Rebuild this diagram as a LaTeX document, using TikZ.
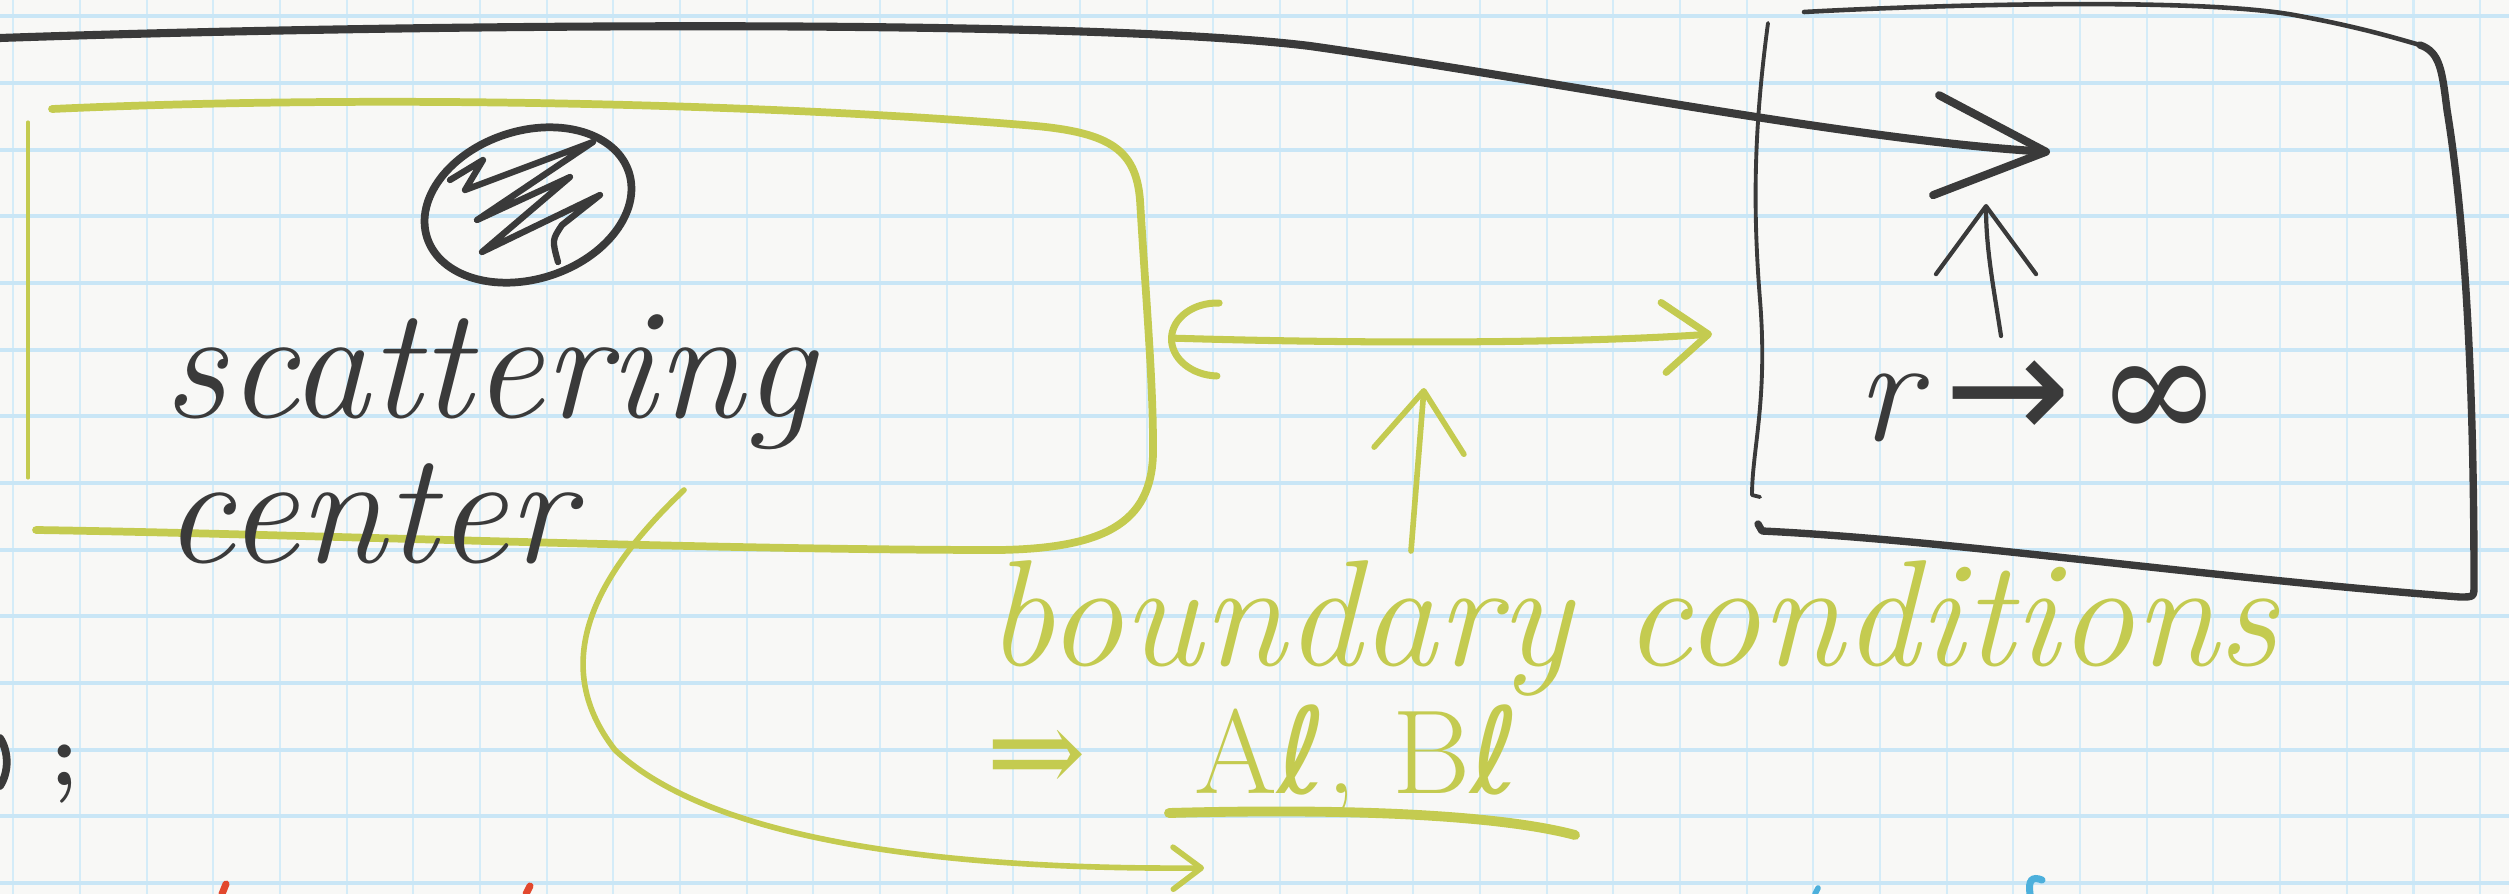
\documentclass[tikz,border=0pt]{standalone}
\usepackage{fontspec}
\newfontfamily\symf{DejaVu Serif}
\newfontfamily\symsans{DejaVu Sans}
\usetikzlibrary{arrows.meta}
\definecolor{paper}{HTML}{F8F8F6}
\definecolor{gridv}{HTML}{D4ECF8}
\definecolor{gridh}{HTML}{C9E6F6}
\definecolor{lime}{HTML}{C4CB50}
\definecolor{ink}{HTML}{3A3A3A}
\definecolor{redink}{HTML}{E2482E}
\definecolor{blueink}{HTML}{4DB0DC}
\tikzset{
  inkline/.style={draw=ink, line cap=round, line join=round},
  limeline/.style={draw=lime, line cap=round, line join=round},
  hand/.style={inner sep=0pt, anchor=base west, font=\fontsize{43}{43}\selectfont\itshape},
}
\begin{document}
\begin{tikzpicture}[x=0.01cm,y=-0.01cm]
\useasboundingbox (0,0) rectangle (2509,894);
\fill[paper] (0,0) rectangle (2509,894);
% grid
\foreach \i in {0,...,37} \draw[gridv, line width=0.6pt] ({13.3+66.67*\i},0) -- ++(0,894);
\foreach \j in {0,...,13} \draw[gridh, line width=1.1pt] (0,{16.3+66.67*\j}) -- ++(2509,0);

% green box around scattering center
\draw[limeline, line width=2.2pt] (52,109) .. controls (400,93) and (800,106) .. (1036,126)
   .. controls (1110,133) and (1136,150) .. (1140,200)
   .. controls (1146,300) and (1153,380) .. (1153,445)
   .. controls (1155,520) and (1110,548) .. (1000,550)
   .. controls (700,550) and (300,534) .. (36,530);
\draw[limeline, line width=0.9pt] (28,122) -- (28,478);

% scattering symbol
\draw[inkline, line width=2.2pt, rotate around={18:(528,205)}] (528,205) ellipse [x radius=1.06cm, y radius=0.74cm];
\draw[inkline, line width=1.8pt] (450,180) -- (483,160) -- (465,190) -- (593,142) -- (477,220)
   -- (570,177) -- (482,252) -- (600,195) -- (562,225) .. controls (552,240) .. (558,262);

\node[hand, text=ink, font=\fontsize{45}{45}\selectfont\itshape] (scat) at (163,417) {scattering};
\node[hand, text=ink, font=\fontsize{45}{45}\selectfont\itshape] (cent) at (163,562) {center};

% black region on the right
\draw[inkline, line width=1.1pt] (1768,23) .. controls (1755,120) and (1752,200) .. (1760,300)
   .. controls (1768,400) and (1752,450) .. (1752,495) -- (1760,497);
\draw[inkline, line width=1.3pt] (1804,12) .. controls (1950,4) and (2200,-2) .. (2294,15)
   .. controls (2360,27) and (2395,38) .. (2420,45);
\draw[inkline, line width=2.1pt] (2420,45) .. controls (2440,52) and (2442,70) .. (2447,110)
   .. controls (2470,250) and (2474,450) .. (2474,585)
   .. controls (2474,597) .. (2460,597)
   .. controls (2200,577) and (1950,540) .. (1762,531) -- (1758,524);

% long black incoming arrow
\coordinate (tstart) at (0,38);
\coordinate (ttip) at (2050,152);
\draw[inkline, line width=2.3pt, -{Straight Barb[length=1.1cm,width=1cm,round]}]
   (tstart) .. controls (400,24) and (1080,18) .. (1310,46)
   .. controls (1550,80) and (1850,140) .. (ttip);

% small black up arrow
\coordinate (ua0) at (2001,336);
\coordinate (ua1) at (1986,204);
\draw[inkline, line width=1.2pt, -{Straight Barb[length=0.68cm,width=1cm,round]}]
   (ua0) .. controls (1994,290) and (1986,250) .. (ua1);

\node[hand, text=ink] (rinf) at (1856,440) {r\,{\symsans\upshape →}\,{\symf\upshape ∞}};

% green double arrow
\coordinate (gL) at (1168,338);
\coordinate (gR) at (1712,334);
\draw[limeline, line width=2pt, {Arc Barb[length=0.5cm,width=0.8cm,round]}-{Straight Barb[length=0.45cm,width=0.7cm,round]}]
   (gL) .. controls (1400,345) and (1600,342) .. (gR);

% green up arrow
\coordinate (gu0) at (1411,551);
\coordinate (gu1) at (1424,388);
\draw[limeline, line width=1.6pt, -{Straight Barb[length=0.6cm,width=0.9cm,round]}] (gu0) -- (gu1);

\node[hand, text=lime] (bc) at (986,665) {boundary conditions};
\node[inner sep=0pt, anchor=base west, text=lime, font=\fontsize{34}{34}\selectfont] (ab) at (986,793)
   {{\symf ⇒}\hspace{0.9em}A{\symsans ℓ}, B{\symsans ℓ}};
\draw[limeline, line width=2.8pt] (1169,813) .. controls (1350,808) and (1500,815) .. (1575,835);

% green curved arrow from the scattering box
\coordinate (gc0) at (684,490);
\coordinate (gc1) at (1204,868);
\draw[limeline, line width=1.6pt, -{Straight Barb[length=0.28cm,width=0.42cm,round]}]
   (gc0) .. controls (600,570) and (545,660) .. (615,750)
   .. controls (700,830) and (900,870) .. (gc1);

% left edge marks
\node[inner sep=0pt, anchor=base west, text=ink, font=\fontsize{26}{26}\selectfont\bfseries] (semi) at (50,785) {;};
\draw[inkline, line width=2.2pt] (0,738) .. controls (9,752) and (9,772) .. (0,786);

% cut-off strokes at the bottom edge
\draw[draw=redink, line width=2pt, line cap=round] (226,884) -- (222,894);
\draw[draw=redink, line width=2pt, line cap=round] (530,886) -- (526,894);
\draw[draw=blueink, line width=1.6pt, line cap=round] (1818,888) -- (1815,894);
\draw[draw=blueink, line width=2pt, line cap=round] (2042,880) .. controls (2032,876) and (2028,880) .. (2030,894);
\end{tikzpicture}
\end{document}
